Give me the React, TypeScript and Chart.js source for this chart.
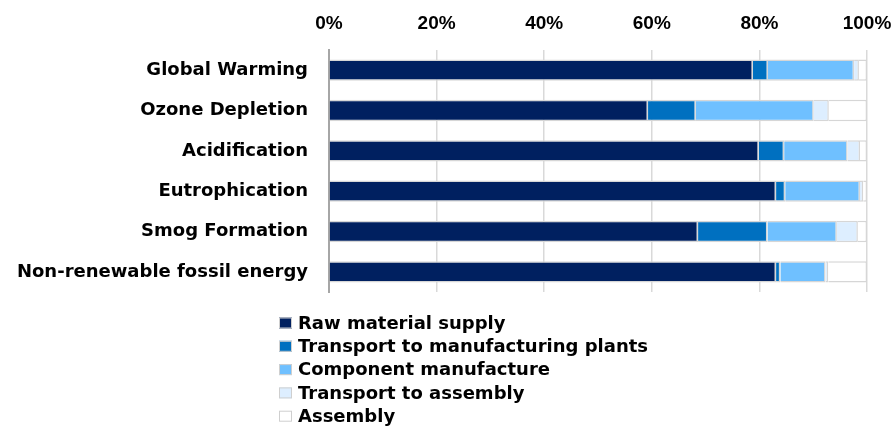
import React, { useEffect, useRef } from "react";
import { Chart, registerables } from "chart.js";

Chart.register(...registerables);

const categories = [
  "Global Warming",
  "Ozone Depletion",
  "Acidification",
  "Eutrophication",
  "Smog Formation",
  "Non-renewable fossil energy",
];

const seriesNames = [
  "Raw material supply",
  "Transport to manufacturing plants",
  "Component manufacture",
  "Transport to assembly",
  "Assembly",
];

const rawMaterialSupply = [78.8, 59.3, 79.9, 83.1, 68.6, 83.1];
const transportToManufacturing = [2.8, 8.9, 4.7, 1.7, 12.9, 0.8];
const componentManufacture = [16.0, 21.9, 11.8, 13.9, 12.9, 8.4];
const transportToAssembly = [0.9, 2.8, 2.3, 0.6, 3.9, 0.5];
const assembly = [1.5, 7.1, 1.3, 0.7, 1.7, 7.2];

const xTicks = [0, 20, 40, 60, 80, 100];

const seriesColors = ["#002060", "#0070C0", "#6FC0FF", "#DDEEFF", "#FFFFFF"];

const FONT = "'DejaVu Sans', sans-serif";

const verticalLegend = {
  id: "verticalLegend",
  afterDraw(chart: any) {
    const ctx = chart.ctx;
    const area = chart.chartArea;
    const x0 = area.left - 50;
    const y0 = area.bottom + 31;
    const step = 23.3;
    ctx.save();
    ctx.font = `bold 18px ${FONT}`;
    ctx.textBaseline = "middle";
    ctx.textAlign = "left";
    chart.data.datasets.forEach((ds: any, i: number) => {
      const cy = y0 + i * step;
      ctx.fillStyle = ds.backgroundColor;
      ctx.fillRect(x0, cy - 5.5, 13, 11);
      ctx.strokeStyle = "#cfcfcf";
      ctx.lineWidth = 1;
      ctx.strokeRect(x0 + 0.5, cy - 5, 12, 10);
      ctx.fillStyle = "#000000";
      ctx.fillText(ds.label, x0 + 19, cy + 1);
    });
    ctx.restore();
  },
};

export default function App() {
  const canvasRef = useRef<HTMLCanvasElement | null>(null);

  useEffect(() => {
    document.body.style.margin = "0";
    const values = [
      rawMaterialSupply,
      transportToManufacturing,
      componentManufacture,
      transportToAssembly,
      assembly,
    ];
    const chart = new Chart(canvasRef.current as HTMLCanvasElement, {
      type: "bar",
      data: {
        labels: categories,
        datasets: seriesNames.map((name, i) => ({
          label: name,
          data: values[i],
          backgroundColor: seriesColors[i],
          borderColor: "#d6d6d6",
          borderWidth: 1.5,
          barPercentage: 0.53,
          categoryPercentage: 1,
        })),
      },
      options: {
        indexAxis: "y",
        responsive: false,
        animation: false,
        layout: { padding: { left: 0, right: 28, top: 0, bottom: 137 } },
        plugins: {
          legend: { display: false },
          tooltip: { enabled: false },
        },
        scales: {
          x: {
            position: "top",
            stacked: true,
            min: 0,
            max: 100,
            afterBuildTicks: (scale: any) => {
              scale.ticks = xTicks.map((v) => ({ value: v }));
            },
            afterFit: (scale: any) => {
              scale.height = 50;
              scale.paddingLeft = 0;
              scale.paddingRight = 0;
            },
            grid: {
              color: "#d9d9d9",
              lineWidth: 1.5,
              drawTicks: false,
            },
            border: { display: false },
            ticks: {
              padding: 15,
              color: "#000000",
              font: { family: "'Liberation Sans', Arial, sans-serif", size: 19, weight: "bold" },
              callback: (v: any) => `${v}%`,
              maxRotation: 0,
            },
          },
          y: {
            stacked: true,
            afterFit: (scale: any) => {
              scale.width = 329;
              scale.paddingTop = 0;
              scale.paddingBottom = 0;
            },
            grid: { display: false, drawTicks: false },
            border: { display: true, color: "#a6a6a6", width: 2 },
            ticks: {
              padding: 21,
              color: "#000000",
              font: { family: FONT, size: 18, weight: "bold" },
            },
          },
        },
      },
      plugins: [verticalLegend],
    } as any);
    return () => chart.destroy();
  }, []);

  return (
    <div style={{ width: 895, height: 429 }}>
      <canvas ref={canvasRef} width={895} height={429} style={{ display: "block" }} />
    </div>
  );
}
